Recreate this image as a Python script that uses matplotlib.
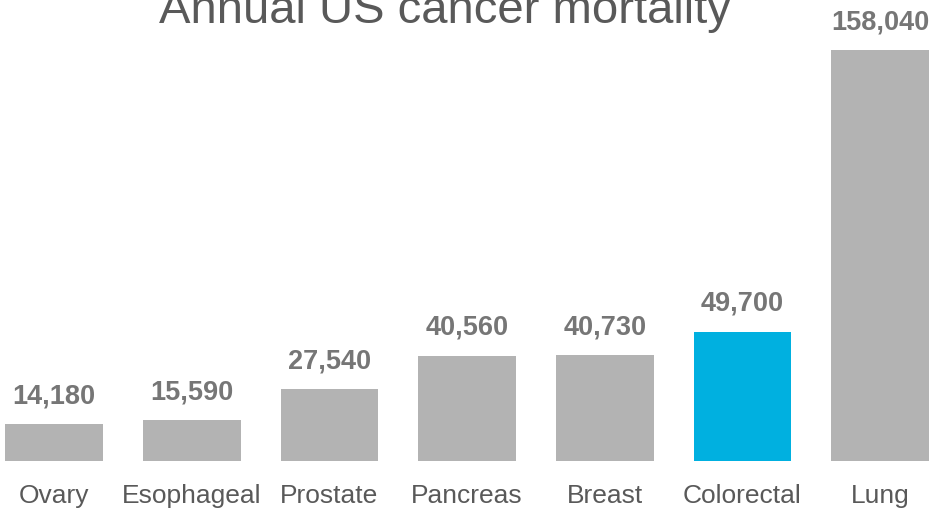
import matplotlib.pyplot as plt

categorias = ['Ovary', 'Esophageal', 'Prostate', 'Pancreas', 'Breast', 'Colorectal', 'Lung']
mortes = [14180, 15590, 27540, 40560, 40730, 49700, 158040]
destaque = 'Colorectal'

cinza = '#b3b3b3'
azul = '#00b0e0'

plt.rcParams['font.family'] = ['Liberation Sans', 'DejaVu Sans']

figura = plt.figure(figsize=(9.35, 5.12), dpi=100)
eixo = figura.add_axes([0, 51 / 512, 1, 461 / 512])

cores = [azul if c == destaque else cinza for c in categorias]
posicoes = list(range(len(categorias)))
eixo.bar(posicoes, mortes, width=0.71, color=cores)

eixo.set_xlim(-0.392, 6.398)
eixo.set_ylim(0, 177300)
eixo.axis('off')

for x, valor, nome in zip(posicoes, mortes, categorias):
    eixo.annotate('{:,}'.format(valor), xy=(x, valor), xytext=(0, 15.1),
                  textcoords='offset points', ha='center', va='baseline',
                  fontsize=19.5, fontweight='bold', color='#767676')
    eixo.annotate(nome, xy=(x, 0), xytext=(0, -30.2),
                  textcoords='offset points', ha='center', va='baseline',
                  fontsize=19, color='#595959', annotation_clip=False)

figura.text(445 / 935, 1 - 23 / 512, 'Annual US cancer mortality',
            ha='center', va='baseline', fontsize=34, color='#595959')

figura.savefig('out.png', dpi=100)
